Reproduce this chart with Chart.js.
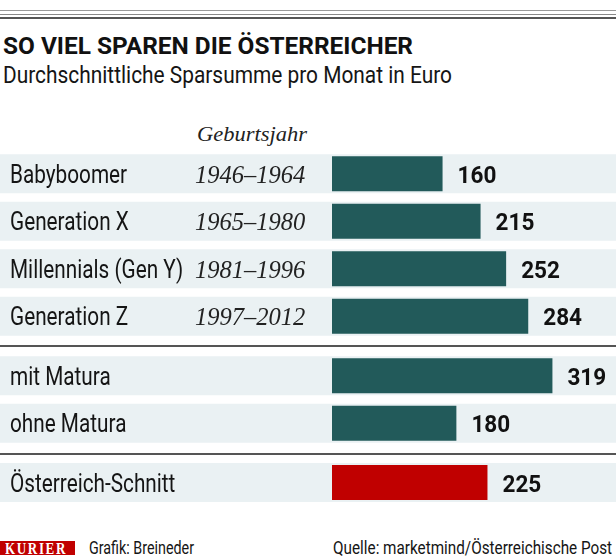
<!DOCTYPE html>
<html>
<head>
<meta charset="utf-8">
<script src="https://cdn.jsdelivr.net/npm/chart.js@4.4.1/dist/chart.umd.min.js"></script>
<style>
  html, body { margin: 0; padding: 0; background: #fff; }
  body { width: 616px; height: 557px; position: relative; overflow: hidden;
         font-family: Roboto, "DejaVu Sans Condensed", sans-serif; color: #151515; }
  .rule { position: absolute; left: 0; width: 616px; }
  .txt { position: absolute; white-space: nowrap; line-height: 1; }
  .fit { display: inline-block; transform-origin: 0 0; }
  .title { left: 3px; top: 33.5px; font-size: 24.5px; font-weight: bold; color: #111; }
  .sub { left: 3px; top: 64px; font-size: 23px; }
  .geb { left: 197px; top: 123.3px; font-family: "Liberation Serif", serif;
         font-style: italic; font-size: 22px; color: #222; }
  .box { position: absolute; left: 0; width: 616px; }
  .logo { position: absolute; left: 0; top: 541px; width: 75px; height: 14px; background: #c00000;
          color: #fff; font-family: "Liberation Serif", serif; font-weight: bold; font-size: 16px;
          line-height: 15px; overflow: hidden; }
  .logo .fit { margin-left: 5px; letter-spacing: 2px; }
  .credit { left: 89px; top: 538px; font-size: 19px; }
  .source { right: 4px; top: 538px; font-size: 19px; }
  .source .fit { transform-origin: 100% 0; }
</style>
</head>
<body>
<div class="rule" style="top:10px;height:1px;background:#999"></div>
<div class="rule" style="top:14px;height:1px;background:#888"></div>
<div class="rule" style="top:17px;height:2px;background:#555"></div>

<div class="txt title"><span class="fit" data-w="410">SO VIEL SPAREN DIE ÖSTERREICHER</span></div>
<div class="txt sub"><span class="fit" data-w="449">Durchschnittliche Sparsumme pro Monat in Euro</span></div>
<div class="txt geb"><span class="fit" data-w="110">Geburtsjahr</span></div>

<div class="box" style="top:150px;height:190px"><canvas id="chartGen"></canvas></div>
<div class="rule" style="top:345px;height:2px;background:#555"></div>
<div class="box" style="top:352px;height:95px"><canvas id="chartEdu"></canvas></div>
<div class="rule" style="top:453px;height:2px;background:#555"></div>
<div class="box" style="top:459px;height:47px"><canvas id="chartAvg"></canvas></div>

<div class="logo"><span class="fit" data-w="62">KURIER</span></div>
<div class="txt credit"><span class="fit" data-w="105">Grafik: Breineder</span></div>
<div class="txt source"><span class="fit" data-w="279">Quelle: marketmind/Österreichische Post</span></div>

<script>
/* =====================
   DATA
===================== */
const genLabels = ["Babyboomer", "Generation X", "Millennials (Gen Y)", "Generation Z"];
const genYears = ["1946–1964", "1965–1980", "1981–1996", "1997–2012"];
const genValues = [160, 215, 252, 284];

const eduLabels = ["mit Matura", "ohne Matura"];
const eduValues = [319, 180];

const avgLabels = ["Österreich-Schnitt"];
const avgValues = [225];

/* =====================
   STYLE
===================== */
const TEAL = "#225a5a";
const RED = "#c00000";
const BAND = "#eaf1f3";
const SANS = 'Roboto, "DejaVu Sans Condensed", sans-serif';
const SERIF = '"Liberation Serif", serif';
const X_MAX = 411;
const LABEL_K = 0.83;   // fake condensed face
const VALUE_K = 0.92;

/* =====================
   HELPER
===================== */
function squeezeText(ctx, text, x, y, font, k) {
  ctx.save();
  ctx.font = font;
  ctx.translate(x, y);
  ctx.scale(k, 1);
  ctx.fillText(text, 0, 0);
  ctx.restore();
}

// grey row bands behind the bars, labels/years/values on top
const rowText = {
  id: "rowText",
  beforeDatasetsDraw(chart) {
    const ctx = chart.ctx;
    ctx.save();
    ctx.fillStyle = BAND;
    chart.getDatasetMeta(0).data.forEach(bar => {
      ctx.fillRect(0, bar.y - 19.5, chart.width, 39);
    });
    ctx.restore();
  },
  afterDatasetsDraw(chart, args, opts) {
    const ctx = chart.ctx;
    const values = chart.data.datasets[0].data;
    ctx.save();
    ctx.textBaseline = "alphabetic";
    ctx.textAlign = "left";
    chart.getDatasetMeta(0).data.forEach((bar, i) => {
      ctx.fillStyle = "#151515";
      squeezeText(ctx, chart.data.labels[i], 10, bar.y + 9, "25px " + SANS, LABEL_K);
      if (opts.years) {
        ctx.fillStyle = "#222";
        squeezeText(ctx, opts.years[i], 195, bar.y + 9.2, "italic 24.5px " + SERIF, 1);
      }
      ctx.fillStyle = "#111";
      squeezeText(ctx, String(values[i]), bar.x + 15, bar.y + 9, "bold 24.5px " + SANS, VALUE_K);
    });
    ctx.restore();
  }
};

let charts = {};

function makeChart(id, labels, values, color, years) {
  if (charts[id]) charts[id].destroy();
  charts[id] = new Chart(document.getElementById(id), {
    type: "bar",
    data: {
      labels: labels,
      datasets: [{
        data: values,
        backgroundColor: color,
        borderWidth: 0,
        categoryPercentage: 1,
        barPercentage: 0.74
      }]
    },
    options: {
      indexAxis: "y",
      responsive: true,
      maintainAspectRatio: false,
      animation: false,
      layout: { padding: { left: 332, right: 0, top: 0, bottom: 0 } },
      scales: {
        x: { min: 0, max: X_MAX, display: false },
        y: { display: false }
      },
      plugins: {
        legend: { display: false },
        tooltip: { enabled: false },
        rowText: { years: years }
      }
    },
    plugins: [rowText]
  });
}

makeChart("chartGen", genLabels, genValues, TEAL, genYears);
makeChart("chartEdu", eduLabels, eduValues, TEAL, null);
makeChart("chartAvg", avgLabels, avgValues, RED, null);

/* =====================
   FIT HTML TEXT WIDTHS
===================== */
document.querySelectorAll(".fit").forEach(el => {
  const w = el.getBoundingClientRect().width;
  if (w > 0) el.style.transform = "scaleX(" + (el.dataset.w / w) + ")";
});
</script>
</body>
</html>
